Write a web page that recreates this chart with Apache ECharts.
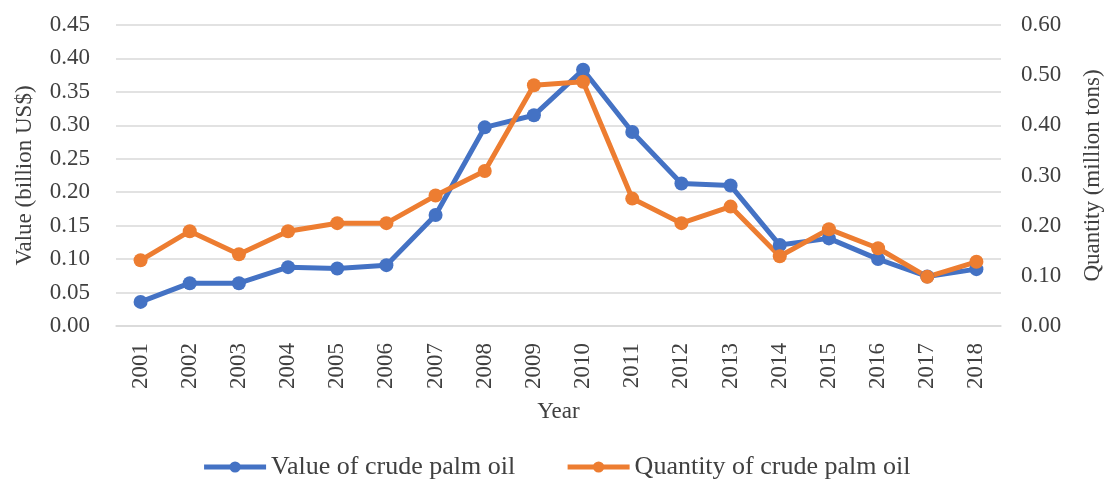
<!DOCTYPE html>
<html>
<head>
<meta charset="utf-8">
<script src="https://cdn.jsdelivr.net/npm/echarts@6/dist/echarts.min.js"></script>
<style>
  html, body { margin: 0; padding: 0; background: #fff; }
  #main { width: 1112px; height: 483px; }
</style>
</head>
<body>
<div id="main"></div>
<script>
// data
var years = ['2001', '2002', '2003', '2004', '2005', '2006', '2007', '2008', '2009',
             '2010', '2011', '2012', '2013', '2014', '2015', '2016', '2017', '2018'];
// billion US$
var valueData = [0.036, 0.064, 0.064, 0.088, 0.086, 0.091, 0.166, 0.297, 0.315,
                 0.383, 0.290, 0.213, 0.210, 0.121, 0.131, 0.100, 0.074, 0.085];
// million tons
var quantityData = [0.131, 0.189, 0.143, 0.189, 0.205, 0.205, 0.260, 0.309, 0.480,
                    0.487, 0.254, 0.205, 0.238, 0.139, 0.193, 0.155, 0.098, 0.128];

var FONT = 'Liberation Serif';
var TXT = '#404040';
var BLUE = '#4472C4', ORANGE = '#ED7D31';

var myChart = echarts.init(document.getElementById('main'));

var option = {
    backgroundColor: '#fff',
    animation: false,
    textStyle: { fontFamily: FONT, color: TXT },
    legend: {
        top: 449,
        left: 'center',
        itemWidth: 62,
        itemHeight: 14,
        itemGap: 50,
        textStyle: { fontFamily: FONT, fontSize: 26, color: TXT },
        data: [
            { name: 'Value of crude palm oil', lineStyle: { width: 5, color: BLUE } },
            { name: 'Quantity of crude palm oil', lineStyle: { width: 5, color: ORANGE } }
        ]
    },
    grid: { left: 116, right: 110, top: 25, bottom: 157 },
    xAxis: {
        type: 'category',
        data: years,
        name: 'Year',
        nameLocation: 'middle',
        nameGap: 74,
        nameTextStyle: { fontFamily: FONT, fontSize: 23, color: TXT },
        axisLine: { lineStyle: { color: '#d9d9d9', width: 1.5 } },
        axisTick: { show: false },
        axisLabel: { rotate: 90, margin: 17, fontFamily: FONT, fontSize: 23, color: TXT }
    },
    yAxis: [{
        type: 'value',
        min: 0, max: 0.45, interval: 0.05,
        name: 'Value (billion US$)',
        nameLocation: 'middle',
        nameGap: 80,
        nameRotate: 90,
        nameTextStyle: { fontFamily: FONT, fontSize: 23, color: TXT },
        axisLine: { show: false },
        axisTick: { show: false },
        axisLabel: {
            margin: 26, fontFamily: FONT, fontSize: 23, color: TXT,
            formatter: function (v) { return v.toFixed(2); }
        },
        splitLine: { lineStyle: { color: '#d9d9d9', width: 1.5 } }
    }, {
        type: 'value',
        min: 0, max: 0.6, interval: 0.1,
        name: 'Quantity (million tons)',
        nameLocation: 'middle',
        nameGap: 80,
        nameRotate: 90,
        nameTextStyle: { fontFamily: FONT, fontSize: 23, color: TXT },
        axisLine: { show: false },
        axisTick: { show: false },
        axisLabel: {
            margin: 20, fontFamily: FONT, fontSize: 23, color: TXT,
            formatter: function (v) { return v.toFixed(2); }
        },
        splitLine: { show: false }
    }],
    series: [{
        name: 'Value of crude palm oil',
        type: 'line',
        yAxisIndex: 0,
        data: valueData,
        symbol: 'circle',
        symbolSize: 14,
        itemStyle: { color: BLUE },
        lineStyle: { color: BLUE, width: 5 }
    }, {
        name: 'Quantity of crude palm oil',
        type: 'line',
        yAxisIndex: 1,
        data: quantityData,
        symbol: 'circle',
        symbolSize: 14,
        itemStyle: { color: ORANGE },
        lineStyle: { color: ORANGE, width: 5 }
    }]
};

myChart.setOption(option);
</script>
</body>
</html>
